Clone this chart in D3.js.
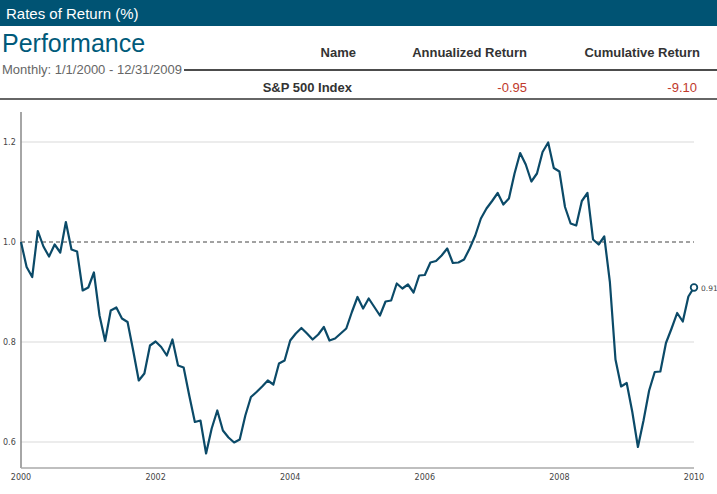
<!DOCTYPE html>
<html><head><meta charset="utf-8">
<script src="https://cdn.jsdelivr.net/npm/d3@7"></script>
<style>body{margin:0;background:#fff}</style>
</head><body>
<script>
// monthly growth of 1, Jan 2000 .. Dec 2009 (121 points)
var values = [1.0,0.95,0.93,1.022,0.991,0.971,0.995,0.979,1.04,0.985,
  0.981,0.903,0.909,0.939,0.853,0.802,0.863,0.869,0.847,0.84,
  0.783,0.723,0.737,0.793,0.801,0.79,0.773,0.805,0.753,0.749,
  0.693,0.64,0.643,0.577,0.627,0.663,0.623,0.609,0.599,0.605,
  0.653,0.69,0.70,0.711,0.723,0.715,0.757,0.763,0.803,0.817,
  0.828,0.817,0.805,0.815,0.83,0.803,0.807,0.817,0.827,0.86,
  0.89,0.867,0.887,0.87,0.853,0.881,0.883,0.917,0.907,0.915,
  0.899,0.933,0.934,0.959,0.962,0.973,0.987,0.958,0.959,0.965,
  0.987,1.013,1.047,1.067,1.082,1.098,1.075,1.087,1.137,1.178,
  1.155,1.121,1.137,1.18,1.199,1.148,1.141,1.07,1.037,1.033,
  1.082,1.098,1.005,0.995,1.011,0.92,0.765,0.711,0.718,0.66,
  0.59,0.643,0.703,0.74,0.741,0.798,0.827,0.858,0.841,0.891,0.909];
var yTicks = [0.6, 0.8, 1.0, 1.2];
var xTicks = [2000, 2002, 2004, 2006, 2008, 2010];
var tableCols = ["Name", "Annualized Return", "Cumulative Return"];
var tableRow = ["S&P 500 Index", "-0.95", "-9.10"];

var W = 717, H = 494;
var svg = d3.select("body").append("svg").attr("width", W).attr("height", H)
  .style("font-family", "'Liberation Sans Narrow', 'Liberation Sans', Arial, sans-serif");

// header
svg.append("rect").attr("width", W).attr("height", 26).attr("fill", "#005373");
svg.append("text").attr("x", 6).attr("y", 19).attr("fill", "#fff").attr("font-size", 15).text("Rates of Return (%)");
svg.append("text").attr("x", 2).attr("y", 52).attr("fill", "#005a7a").attr("font-size", 25)
  .style("font-family", "'Liberation Sans', Arial, sans-serif").text("Performance");
svg.append("text").attr("x", 2).attr("y", 74).attr("fill", "#666").attr("font-size", 13).text("Monthly: 1/1/2000 - 12/31/2009");
svg.append("line").attr("x1", 184).attr("x2", W).attr("y1", 70).attr("y2", 70).attr("stroke", "#111").attr("stroke-width", 1.5);
var colX = [356, 527, 700];
tableCols.forEach(function(c, i) {
  svg.append("text").attr("x", colX[i]).attr("y", 57).attr("text-anchor", "end")
    .attr("font-size", 13).attr("font-weight", "bold").attr("fill", "#333").text(c);
});
tableRow.forEach(function(c, i) {
  svg.append("text").attr("x", i == 0 ? 352 : colX[i] - (i == 1 ? 0 : 3)).attr("y", 92).attr("text-anchor", "end")
    .attr("font-size", 13).attr("font-weight", i == 0 ? "bold" : "normal")
    .attr("fill", i == 0 ? "#333" : "#c0392b").text(c);
});
svg.append("line").attr("x1", 0).attr("x2", W).attr("y1", 99).attr("y2", 99).attr("stroke", "#666").attr("stroke-width", 2);

// chart
var x = d3.scaleLinear().domain([2000, 2010]).range([21, 694]);
var y = d3.scaleLinear().domain([0.6, 1.2]).range([442, 142]);

svg.selectAll(".grid").data(yTicks.filter(function(d){ return d != 1.0; })).enter().append("line")
  .attr("x1", 21).attr("x2", 694).attr("y1", y).attr("y2", y).attr("stroke", "#e6e6e6").attr("stroke-width", 1.5);
svg.append("line").attr("x1", 21).attr("x2", 694).attr("y1", y(1)).attr("y2", y(1))
  .attr("stroke", "#444").attr("stroke-dasharray", "4,3");

svg.append("line").attr("x1", 21).attr("x2", 21).attr("y1", 112).attr("y2", 468).attr("stroke", "#888").attr("stroke-width", 1.5);
svg.append("line").attr("x1", 21).attr("x2", 694).attr("y1", 468).attr("y2", 468).attr("stroke", "#aaa").attr("stroke-width", 1.5);

svg.selectAll(".yt").data(yTicks).enter().append("text")
  .attr("x", 3).attr("y", function(d){ return y(d) + 3; }).attr("font-size", 8).attr("fill", "#444")
  .style("font-family", "Verdana, 'DejaVu Sans', sans-serif").text(d3.format(".1f"));
svg.selectAll(".xt").data(xTicks).enter().append("text")
  .attr("x", x).attr("y", 480).attr("text-anchor", "middle").attr("font-size", 8).attr("fill", "#444")
  .style("font-family", "Verdana, 'DejaVu Sans', sans-serif").text(function(d){ return d; });

var line = d3.line().x(function(d, i){ return x(2000 + i / 12); }).y(function(d){ return y(d); });
svg.append("path").datum(values).attr("d", line).attr("fill", "none")
  .attr("stroke", "#0b4a68").attr("stroke-width", 2.2).attr("stroke-linejoin", "round");

var last = values[values.length - 1];
svg.append("circle").attr("cx", x(2010)).attr("cy", y(last)).attr("r", 3.3)
  .attr("fill", "#fff").attr("stroke", "#0b4a68").attr("stroke-width", 1.8);
svg.append("text").attr("x", x(2010) + 7).attr("y", y(last) + 3).attr("font-size", 7.5).attr("fill", "#444")
  .style("font-family", "Verdana, 'DejaVu Sans', sans-serif").text(d3.format(".2f")(last));
</script>
</body></html>
